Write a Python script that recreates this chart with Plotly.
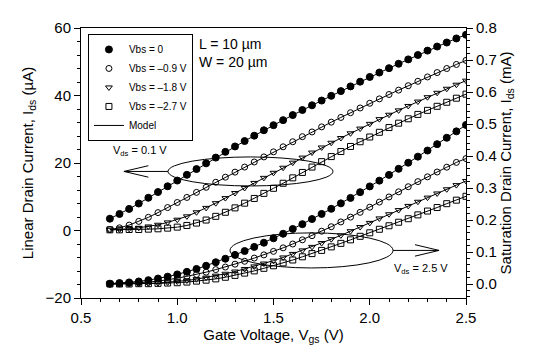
import plotly.graph_objects as go

vgs = [0.65, 0.70, 0.75, 0.80, 0.85, 0.90, 0.95, 1.00, 1.05, 1.10, 1.15, 1.20, 1.25,
       1.30, 1.35, 1.40, 1.45, 1.50, 1.55, 1.60, 1.65, 1.70, 1.75, 1.80, 1.85, 1.90,
       1.95, 2.00, 2.05, 2.10, 2.15, 2.20, 2.25, 2.30, 2.35, 2.40, 2.45, 2.50]

# Linear drain current (uA), Vds = 0.1 V
lin_vbs0 = [3.5, 4.9, 6.4, 8.0, 9.7, 11.4, 13.1, 14.8, 16.5, 18.2, 19.9, 21.6, 23.3,
            24.9, 26.5, 28.1, 29.7, 31.2, 32.7, 34.2, 35.7, 37.1, 38.5, 39.9, 41.3, 42.7,
            44.1, 45.5, 46.8, 48.1, 49.4, 50.7, 52.0, 53.3, 54.5, 55.7, 56.9, 58.0]
lin_vbs09 = [0.3, 0.8, 1.6, 2.7, 3.9, 5.3, 6.8, 8.3, 9.8, 11.3, 12.8, 14.3, 15.8,
             17.3, 18.8, 20.3, 21.8, 23.3, 24.8, 26.3, 27.8, 29.2, 30.7, 32.1, 33.5, 34.9,
             36.3, 37.7, 39.0, 40.3, 41.6, 42.9, 44.2, 45.5, 46.8, 48.0, 49.2, 50.4]
lin_vbs18 = [0.2, 0.3, 0.5, 0.8, 1.2, 1.7, 2.4, 3.2, 4.2, 5.4, 6.7, 8.1, 9.6,
             11.1, 12.6, 14.1, 15.6, 17.1, 18.6, 20.1, 21.6, 23.1, 24.6, 26.0, 27.4, 28.8,
             30.2, 31.6, 33.0, 34.3, 35.6, 36.9, 38.2, 39.5, 40.8, 42.0, 43.2, 44.4]
lin_vbs27 = [0.2, 0.2, 0.3, 0.3, 0.4, 0.5, 0.7, 1.0, 1.5, 2.2, 3.1, 4.2, 5.4,
             6.7, 8.1, 9.5, 11.0, 12.5, 14.0, 15.6, 17.2, 18.8, 20.4, 21.9, 23.4, 24.9,
             26.3, 27.7, 29.1, 30.5, 31.8, 33.1, 34.4, 35.6, 36.8, 38.0, 39.2, 40.4]

# Saturation drain current (mA), Vds = 2.5 V
sat_vbs0 = [0.001, 0.003, 0.005, 0.008, 0.012, 0.017, 0.023, 0.030, 0.038, 0.047, 0.057, 0.068, 0.079,
            0.091, 0.103, 0.116, 0.129, 0.143, 0.157, 0.172, 0.187, 0.203, 0.219, 0.235, 0.252, 0.269,
            0.287, 0.305, 0.323, 0.341, 0.360, 0.379, 0.398, 0.417, 0.437, 0.457, 0.477, 0.497]
sat_vbs09 = [0.000, 0.001, 0.002, 0.004, 0.006, 0.009, 0.013, 0.018, 0.024, 0.030, 0.037, 0.045, 0.053,
             0.062, 0.071, 0.081, 0.091, 0.102, 0.113, 0.125, 0.138, 0.151, 0.165, 0.179, 0.194, 0.209,
             0.224, 0.240, 0.256, 0.272, 0.288, 0.304, 0.320, 0.335, 0.350, 0.365, 0.380, 0.392]
sat_vbs18 = [0.000, 0.000, 0.001, 0.001, 0.002, 0.003, 0.005, 0.008, 0.011, 0.015, 0.020, 0.026, 0.032,
             0.039, 0.047, 0.055, 0.064, 0.073, 0.083, 0.094, 0.105, 0.116, 0.128, 0.140, 0.152, 0.165,
             0.178, 0.191, 0.205, 0.218, 0.231, 0.244, 0.257, 0.270, 0.283, 0.296, 0.309, 0.322]
sat_vbs27 = [0.000, 0.000, 0.000, 0.001, 0.001, 0.002, 0.003, 0.004, 0.006, 0.009, 0.012, 0.016, 0.021,
             0.027, 0.034, 0.041, 0.049, 0.057, 0.066, 0.075, 0.085, 0.095, 0.105, 0.116, 0.127, 0.138,
             0.149, 0.160, 0.171, 0.182, 0.193, 0.204, 0.216, 0.228, 0.239, 0.251, 0.262, 0.274]

series_names = ["Vbs = 0", "Vbs = \u20130.9 V", "Vbs = \u20131.8 V", "Vbs = \u20132.7 V"]
symbols = ["circle", "circle-open", "triangle-down-open", "square-open"]
sizes = [7, 6, 6, 6]
lin_data = [lin_vbs0, lin_vbs09, lin_vbs18, lin_vbs27]
sat_data = [sat_vbs0, sat_vbs09, sat_vbs18, sat_vbs27]

FONT = "Liberation Sans, Arial, sans-serif"
fig = go.Figure()

for name, sym, sz, ys in zip(series_names, symbols, sizes, lin_data):
    fig.add_trace(go.Scatter(x=vgs, y=ys, mode="markers", name=name, yaxis="y",
                             marker=dict(symbol=sym, size=sz, color="black",
                                         line=dict(color="black", width=1))))
for name, sym, sz, ys in zip(series_names, symbols, sizes, sat_data):
    fig.add_trace(go.Scatter(x=vgs, y=ys, mode="markers", name=name, yaxis="y2",
                             showlegend=False,
                             marker=dict(symbol=sym, size=sz, color="black",
                                         line=dict(color="black", width=1))))
first = True
for ys in lin_data:
    fig.add_trace(go.Scatter(x=vgs, y=ys, mode="lines", name="Model", yaxis="y",
                             showlegend=first, line=dict(color="black", width=1)))
    first = False
for ys in sat_data:
    fig.add_trace(go.Scatter(x=vgs, y=ys, mode="lines", name="Model", yaxis="y2",
                             showlegend=False, line=dict(color="black", width=1)))

# Ellipses and arrows (annotation graphics)
fig.add_shape(type="circle", xref="x", yref="y", x0=0.952, x1=1.809, y0=13.2, y1=21.8,
              line=dict(color="black", width=1))
fig.add_shape(type="circle", xref="x", yref="y", x0=1.274, x1=2.121, y0=-11.1, y1=-0.7,
              line=dict(color="black", width=1))
fig.add_shape(type="line", xref="x", yref="y", x0=0.952, x1=0.723, y0=17.5, y1=17.5,
              line=dict(color="black", width=1))
fig.add_shape(type="line", xref="x", yref="y", x0=0.723, x1=0.85, y0=17.5, y1=19.2,
              line=dict(color="black", width=1))
fig.add_shape(type="line", xref="x", yref="y", x0=0.723, x1=0.85, y0=17.5, y1=15.8,
              line=dict(color="black", width=1))
fig.add_shape(type="line", xref="x", yref="y", x0=2.121, x1=2.36, y0=-5.9, y1=-5.9,
              line=dict(color="black", width=1))
fig.add_shape(type="line", xref="x", yref="y", x0=2.36, x1=2.235, y0=-5.9, y1=-4.2,
              line=dict(color="black", width=1))
fig.add_shape(type="line", xref="x", yref="y", x0=2.36, x1=2.235, y0=-5.9, y1=-7.6,
              line=dict(color="black", width=1))

fig.add_annotation(x=0.806, y=23.6, xref="x", yref="y", text="V<sub>ds</sub> = 0.1 V",
                   showarrow=False, font=dict(family=FONT, size=11, color="black"))
fig.add_annotation(x=2.266, y=-11.3, xref="x", yref="y", text="V<sub>ds</sub> = 2.5 V",
                   showarrow=False, font=dict(family=FONT, size=11, color="black"))
fig.add_annotation(x=1.1, y=58.3, xref="x", yref="y", text="L = 10 \u00b5m<br>W = 20 \u00b5m",
                   showarrow=False, xanchor="left", yanchor="top", align="left",
                   font=dict(family=FONT, size=14, color="black"))

axis_common = dict(showline=True, linecolor="black", linewidth=1, ticks="outside",
                   ticklen=6, tickcolor="black", showgrid=False, zeroline=False,
                   automargin=False,
                   tickfont=dict(family=FONT, size=15, color="black"))

fig.update_layout(
    width=545, height=364,
    margin=dict(l=81, r=79, t=28, b=66),
    paper_bgcolor="white", plot_bgcolor="white",
    font=dict(family=FONT, color="black"),
    xaxis=dict(range=[0.5, 2.5], dtick=0.5, tickformat=".1f", mirror=True,
               minor=dict(dtick=0.1, ticklen=3, ticks="outside", tickcolor="black"),
               title=dict(text="Gate Voltage, V<sub>gs</sub> (V)", standoff=0,
                          font=dict(family=FONT, size=15)),
               **axis_common),
    yaxis=dict(range=[-20, 60], dtick=20,
               minor=dict(dtick=4, ticklen=3, ticks="outside", tickcolor="black"),
               title=dict(text="Linear Drain Current, I<sub>ds</sub> (\u00b5A)", standoff=8,
                          font=dict(family=FONT, size=15)),
               **axis_common),
    yaxis2=dict(range=[-0.04375, 0.8], dtick=0.1, tick0=0, tickformat=".1f",
                overlaying="y", side="right",
                minor=dict(dtick=0.02, ticklen=3, ticks="outside", tickcolor="black"),
                title=dict(text="Saturation Drain Current, I<sub>ds</sub> (mA)", standoff=4,
                           font=dict(family=FONT, size=15)),
                **axis_common),
    legend=dict(x=0.018, y=0.978, xanchor="left", yanchor="top",
                bgcolor="white", bordercolor="black", borderwidth=1,
                font=dict(family=FONT, size=10, color="black"),
                tracegroupgap=0, itemwidth=30),
    showlegend=True,
)

fig.write_html("out.html", config={"displayModeBar": False},
               post_script="document.body.style.margin='0';")
